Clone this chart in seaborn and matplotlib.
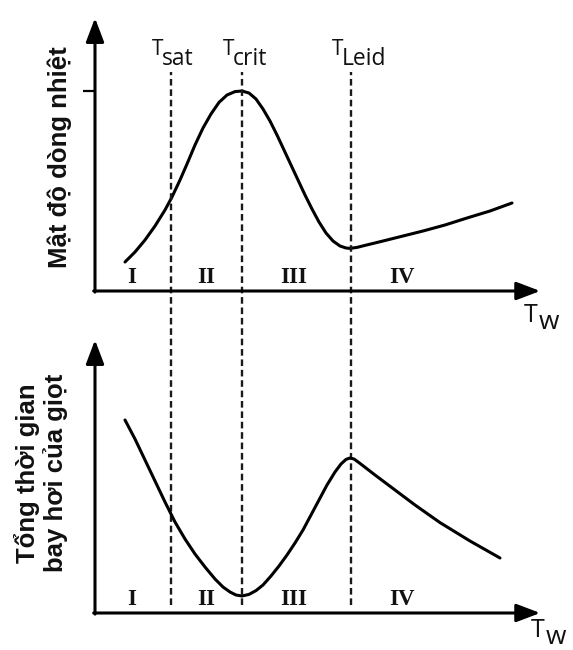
import matplotlib
matplotlib.use("Agg")
import matplotlib.pyplot as plt
import seaborn as sns
import pandas as pd

# ---- data (x: wall temperature in px-like units from origin; y: relative to peak) ----
tw_heat = [30, 40, 50, 60, 70, 77, 85, 92, 100, 108, 116, 124, 132, 140, 147, 154, 161, 168,
           175, 182, 189, 196, 203, 210, 217, 224, 231, 238, 245, 251, 255, 262, 270, 288,
           308, 328, 350, 372, 395, 417]
heat_flux = [0.145, 0.195, 0.255, 0.325, 0.405, 0.47, 0.555, 0.635, 0.73, 0.815, 0.885, 0.943,
             0.98, 0.997, 1.0, 0.99, 0.96, 0.91, 0.85, 0.78, 0.705, 0.63, 0.555, 0.48, 0.41,
             0.345, 0.29, 0.25, 0.225, 0.215, 0.213, 0.218, 0.228, 0.25, 0.275, 0.30, 0.33,
             0.365, 0.40, 0.44]

tw_evap = [30, 40, 50, 60, 70, 80, 90, 100, 110, 120, 128, 135, 141, 147, 154, 161, 168, 176,
           184, 192, 200, 208, 216, 224, 232, 240, 246, 251, 255, 259, 265, 280, 300, 320, 345,
           375, 405]
evap_time = [0.965, 0.87, 0.765, 0.66, 0.555, 0.455, 0.37, 0.295, 0.23, 0.17, 0.13, 0.105,
             0.09, 0.085, 0.093, 0.112, 0.14, 0.185, 0.235, 0.29, 0.35, 0.415, 0.49, 0.565,
             0.64, 0.705, 0.745, 0.768, 0.775, 0.77, 0.748, 0.69, 0.615, 0.54, 0.452, 0.36,
             0.275]

t_marks = [76, 147, 256]
t_subs = ["sat", "crit", "Leid"]
regions = ["I", "II", "III", "IV"]
region_x = [37, 111, 199, 307]

ylabel_top = "Mật độ dòng nhiệt"
ylabel_bottom = "Tổng thời gian\nbay hơi của giọt"

sns.set_style("white")
plt.rcParams["font.family"] = ["DejaVu Sans"]

W, H = 573, 650
fig = plt.figure(figsize=(W / 100, H / 100), dpi=100)

XMAX = 443
YMAX = 273 / 200
ax_top = fig.add_axes([95 / W, 1 - 291 / H, XMAX / W, 273 / H])
ax_bot = fig.add_axes([95 / W, 1 - 613 / H, XMAX / W, 273 / H])

df_top = pd.DataFrame({"Tw": tw_heat, "q": heat_flux})
df_bot = pd.DataFrame({"Tw": tw_evap, "t": evap_time})
sns.lineplot(data=df_top, x="Tw", y="q", ax=ax_top, color="black", lw=2.2, sort=False)
sns.lineplot(data=df_bot, x="Tw", y="t", ax=ax_bot, color="black", lw=2.2, sort=False)

arrow = dict(arrowstyle="-|>,head_length=1.45,head_width=0.55", lw=2.2, color="black",
             shrinkA=0, shrinkB=0, mutation_scale=10)
for ax in (ax_top, ax_bot):
    ax.set_xlim(0, XMAX)
    ax.set_ylim(0, YMAX)
    for s in ax.spines.values():
        s.set_visible(False)
    ax.set_xticks([])
    ax.set_yticks([])
    ax.set_xlabel("")
    ax.set_ylabel("")
    ax.patch.set_alpha(0)
    ax.annotate("", xy=(0, 1), xytext=(0, -0.004), xycoords="axes fraction",
                textcoords="axes fraction", arrowprops=arrow)
    ax.annotate("", xy=(1.005, 0), xytext=(-0.003, 0), xycoords="axes fraction",
                textcoords="axes fraction", arrowprops=arrow)
    for lab, rx in zip(regions, region_x):
        ax.text(rx, 0.068, lab, ha="center", va="center", fontsize=16.5, fontweight="bold",
                family="Liberation Serif", color="#111111")

# tick at critical heat flux
ax_top.plot([-12, 0], [1.0, 1.0], color="black", lw=1.6, clip_on=False, solid_capstyle="butt")

# dashed guide lines spanning both panels
for xm in t_marks:
    ax_top.axvline(xm, ymin=(291 - 605) / 273, ymax=(291 - 72) / 273, clip_on=False,
                   color="#1a1a1a", lw=1.7, dashes=(2.8, 1.6))

# T labels
for xm, sub in zip(t_marks, t_subs):
    ax_top.text(xm - 8, (291 - 55) / 200, "T", ha="right", va="baseline", fontsize=15,
                family="Open Sans", color="#111111")
    ax_top.text(xm - 9, (291 - 65) / 200, sub, ha="left", va="baseline", fontsize=16.5,
                family="Open Sans", color="#111111")

# Tw labels
for ax, ybase, xo in ((ax_top, (291 - 322) / 200, 429), (ax_bot, (613 - 637) / 200, 436)):
    ax.text(xo, ybase, "T", ha="left", va="baseline", fontsize=18, family="Open Sans",
            color="#111111", clip_on=False)
    ax.text(xo + 15, ybase - 0.035, "w", ha="left", va="baseline", fontsize=19,
            family="Open Sans", color="#111111", clip_on=False)

fig.text(60 / W, 1 - 157 / H, ylabel_top, rotation=90, ha="center", va="center",
         fontsize=18.5, fontweight="bold", family="Liberation Sans", color="#111111")
fig.text(41 / W, 1 - 473 / H, ylabel_bottom, rotation=90, ha="center", va="center",
         fontsize=18.5, fontweight="bold", family="Liberation Sans", color="#111111",
         linespacing=1.12, multialignment="center")

fig.savefig("out.png", dpi=100)
